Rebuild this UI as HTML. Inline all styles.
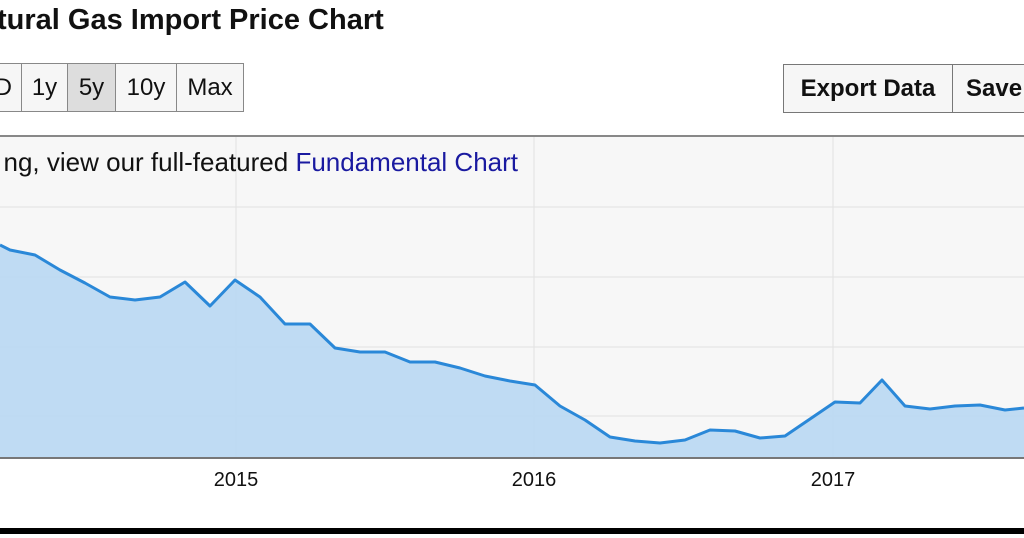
<!DOCTYPE html>
<html><head><meta charset="utf-8"><style>
html,body{margin:0;width:1024px;height:538px;overflow:hidden}
body{background:#fff;position:relative;font-family:"Liberation Sans",sans-serif}
.t{position:absolute;left:-3px;top:4px;font-size:29px;font-weight:bold;color:#111;white-space:nowrap}
.b{position:absolute;top:63px;border:1px solid #888;background:#f6f6f6;font-size:24px;line-height:47px;text-align:center;color:#111;box-sizing:border-box;height:49px;white-space:nowrap;overflow:hidden}
.rb{font-weight:bold;border-color:#777}
</style></head><body>
<div class="t">tural Gas Import Price Chart</div>
<div class="b" style="left:0;width:23px;border-left:none;text-align:right;padding-right:10px;direction:rtl">D</div>
<div class="b" style="left:21px;width:47px">1y</div>
<div class="b" style="left:67px;width:49px;background:#ddd">5y</div>
<div class="b" style="left:115px;width:62px">10y</div>
<div class="b" style="left:176px;width:68px">Max</div>
<div class="b rb" style="left:783px;width:170px;top:64px">Export Data</div>
<div class="b rb" style="left:952px;width:72px;top:64px;border-right:none;text-align:left;padding-left:13px">Save</div>
<svg width="1024" height="538" style="position:absolute;left:0;top:0">
<rect x="0" y="136" width="1024" height="322" fill="#f7f7f7"/>
<line x1="0" y1="136" x2="1024" y2="136" stroke="#888" stroke-width="2"/>
<g stroke="#e2e2e2" stroke-width="1">
<line x1="0" y1="207" x2="1024" y2="207"/><line x1="0" y1="277" x2="1024" y2="277"/><line x1="0" y1="347" x2="1024" y2="347"/><line x1="0" y1="416" x2="1024" y2="416"/>
<line x1="236" y1="137" x2="236" y2="458"/><line x1="534" y1="137" x2="534" y2="458"/><line x1="833" y1="137" x2="833" y2="458"/></g>
<text x="518" y="171" font-size="26" fill="#111" font-family="Liberation Sans" text-anchor="end">ng, view our full-featured <tspan fill="#1a1aa0">Fundamental Chart</tspan></text>
<polygon fill="#bcd9f2" fill-opacity="0.95" points="0,458 0,245 10,250 35,255 60,270 85,283 110,297 135,300 160,297 185,282 210,306 235,280 260,297 285,324 310,324 335,348 360,352 385,352 410,362 435,362 460,368 485,376 510,381 535,385 560,406 585,420 610,437 635,441 660,443 685,440 710,430 735,431 760,438 785,436 810,419 835,402 860,403 882,380 905,406 930,409 955,406 980,405 1005,410 1024,408 1024,458"/>
<polyline fill="none" stroke="#2a88d8" stroke-width="3" stroke-linejoin="round" points="0,245 10,250 35,255 60,270 85,283 110,297 135,300 160,297 185,282 210,306 235,280 260,297 285,324 310,324 335,348 360,352 385,352 410,362 435,362 460,368 485,376 510,381 535,385 560,406 585,420 610,437 635,441 660,443 685,440 710,430 735,431 760,438 785,436 810,419 835,402 860,403 882,380 905,406 930,409 955,406 980,405 1005,410 1024,408"/>
<line x1="0" y1="458" x2="1024" y2="458" stroke="#777" stroke-width="2"/>
<g font-size="20" fill="#111" text-anchor="middle" font-family="Liberation Sans"><text x="236" y="486">2015</text><text x="534" y="486">2016</text><text x="833" y="486">2017</text></g>
<rect x="0" y="528" width="1024" height="6" fill="#000"/>
</svg>
</body></html>
